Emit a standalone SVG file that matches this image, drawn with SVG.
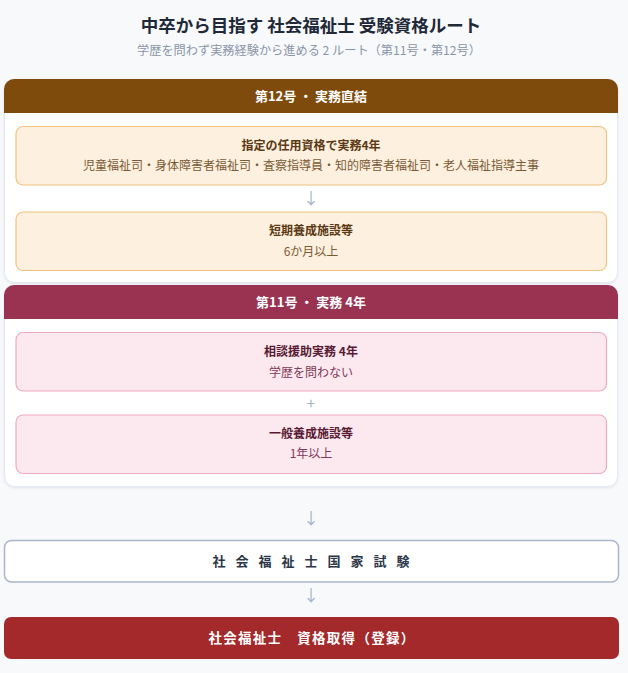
<svg xmlns="http://www.w3.org/2000/svg" width="628" height="673" viewBox="0 0 628 673">
<defs>
<style>
text{font-family:"Noto Sans CJK JP","Noto Sans",sans-serif;text-anchor:middle}
.title{font-size:17.5px;font-weight:700;fill:#1f2937}
.sub{font-size:12.2px;fill:#8b95a7}
.hdr{font-size:13px;font-weight:700;fill:#ffffff}
.panel{fill:#ffffff;stroke:#e6eaf0;stroke-width:1}
.obox{fill:#fdf0df;stroke:#f2c27e;stroke-width:1.2}
.pbox{fill:#fce8ef;stroke:#eeaac2;stroke-width:1.2}
.ot{font-size:12px;font-weight:700;fill:#5a3913}
.os{font-size:12px;fill:#7a5a34}
.pt{font-size:12px;font-weight:700;fill:#571a32}
.ps{font-size:12px;fill:#7c3a58}
.arr{font-size:16px;fill:#a3b3c9}
.plus{font-size:15px;fill:#aab1bd}
</style>
<filter id="sh" x="-5%" y="-5%" width="110%" height="115%">
<feDropShadow dx="0" dy="1" stdDeviation="1.2" flood-color="#94a3b8" flood-opacity="0.25"/>
</filter>
</defs>
<rect width="628" height="673" fill="#f7f9fb"/>
<text class="title" x="311" y="32">中卒から目指す 社会福祉士 受験資格ルート</text>
<text class="sub" x="309" y="55">学歴を問わず実務経験から進める 2 ルート（第11号・第12号）</text>

<g id="route12">
<rect class="panel" x="4.5" y="79.5" width="613" height="203" rx="10" filter="url(#sh)"/>
<path d="M4,113 V89 A10,10 0 0 1 14,79 H608 A10,10 0 0 1 618,89 V113 Z" fill="#7f4b0d"/>
<text class="hdr" x="311" y="101">第12号 ・ 実務直結</text>
</g>
<g id="n12a">
<rect class="obox" x="16" y="126.5" width="590.5" height="58.5" rx="7"/>
<text class="ot" x="311" y="150">指定の任用資格で実務4年</text>
<text class="os" x="311" y="170">児童福祉司・身体障害者福祉司・査察指導員・知的障害者福祉司・老人福祉指導主事</text>
</g>
<g id="n12b">
<rect class="obox" x="16" y="212" width="590.5" height="58.5" rx="7"/>
<text class="ot" x="311" y="235">短期養成施設等</text>
<text class="os" x="311" y="256">6か月以上</text>
</g>

<g id="route11">
<rect class="panel" x="4.5" y="285.5" width="613" height="201" rx="10" filter="url(#sh)"/>
<path d="M4,319 V295 A10,10 0 0 1 14,285 H608 A10,10 0 0 1 618,295 V319 Z" fill="#9a3352"/>
<text class="hdr" x="311" y="307">第11号 ・ 実務 4年</text>
</g>
<g id="n11a">
<rect class="pbox" x="16" y="332.5" width="590.5" height="58.5" rx="7"/>
<text class="pt" x="311" y="356">相談援助実務 4年</text>
<text class="ps" x="311" y="377">学歴を問わない</text>
</g>
<g id="n11b">
<rect class="pbox" x="16" y="415" width="590.5" height="58.5" rx="7"/>
<text class="pt" x="311" y="438">一般養成施設等</text>
<text class="ps" x="311" y="458">1年以上</text>
</g>

<g id="exam">
<rect x="4.5" y="540.5" width="614" height="41.5" rx="7" fill="#ffffff" stroke="#a8b7cc" stroke-width="1.5"/>
<text x="316" y="566" style="font-size:13px;font-weight:700;fill:#2d3748;letter-spacing:10px">社会福祉士国家試験</text>
</g>
<g id="final">
<rect x="4" y="617" width="615" height="42" rx="7" fill="#a4292b"/>
<text x="312" y="643" style="font-size:13.5px;font-weight:700;fill:#ffffff;letter-spacing:1.3px">社会福祉士　資格取得（登録）</text>
</g>

<g id="connectors">
<text class="arr" x="311" y="204">↓</text>
<text class="plus" x="311" y="409">+</text>
<text class="arr" x="311" y="524">↓</text>
<text class="arr" x="311" y="601">↓</text>
</g>
</svg>
